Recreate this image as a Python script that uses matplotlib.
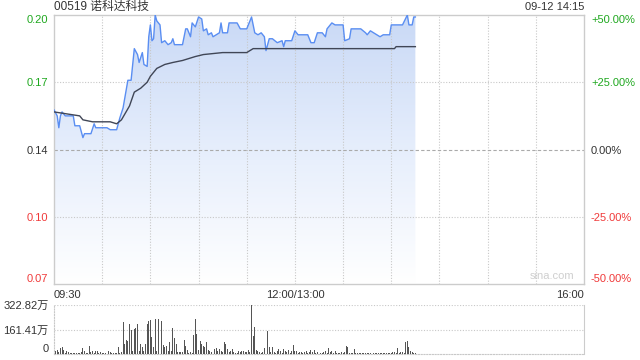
import matplotlib.pyplot as plt
import numpy as np
from matplotlib.colors import LinearSegmentedColormap

plt.rcParams['font.family'] = ['Liberation Sans', 'Noto Sans CJK SC']

title = '00519 诺科达科技'
stamp = '09-12 14:15'
prev_close = 0.136

# minutes after 09:30 (lunch break removed), price keyframes
price_min = [0, 2, 3, 4, 5, 7, 12, 13, 16, 18, 19, 23, 25, 26, 33, 35, 39, 41, 43, 46,
             48, 50, 52, 53, 55, 56, 58, 59, 60, 61, 62, 63, 64, 66, 67, 69, 71, 73, 74, 75,
             80, 82, 83, 85, 86, 88, 90, 92, 93, 95, 96, 98, 99, 103, 104, 105, 108, 109, 114, 116,
             120, 123, 125, 127, 129, 131, 132, 134, 136, 139, 142, 143, 144, 148, 150, 152, 156, 158, 160, 162,
             164, 167, 169, 170, 173, 175, 180, 181, 184, 185, 191, 194, 195, 197, 199, 201, 203, 205, 209, 210,
             217, 220, 221, 223, 224, 225]
price = [0.156, 0.153, 0.147, 0.153, 0.155, 0.153, 0.153, 0.148, 0.148, 0.142, 0.144, 0.144, 0.149, 0.147, 0.147, 0.146, 0.146, 0.152, 0.157, 0.171,
         0.171, 0.187, 0.184, 0.180, 0.185, 0.179, 0.178, 0.193, 0.199, 0.191, 0.192, 0.204, 0.201, 0.199, 0.190, 0.191, 0.189, 0.190, 0.192, 0.189,
         0.189, 0.197, 0.197, 0.193, 0.200, 0.198, 0.203, 0.202, 0.196, 0.197, 0.194, 0.195, 0.193, 0.195, 0.200, 0.195, 0.195, 0.200, 0.200, 0.197,
         0.197, 0.203, 0.195, 0.194, 0.195, 0.193, 0.186, 0.192, 0.192, 0.190, 0.191, 0.188, 0.191, 0.191, 0.196, 0.194, 0.194, 0.194, 0.190, 0.190,
         0.195, 0.195, 0.193, 0.197, 0.200, 0.199, 0.199, 0.191, 0.192, 0.197, 0.197, 0.195, 0.194, 0.196, 0.195, 0.194, 0.193, 0.194, 0.194, 0.199,
         0.199, 0.204, 0.199, 0.199, 0.203, 0.203]

avg_min = [0, 16, 18, 24, 35, 39, 42, 47, 50, 54, 58, 60, 64, 69, 74, 80, 88, 93, 105, 120, 124, 212, 213, 225]
avg = [0.155, 0.153, 0.151, 0.150, 0.150, 0.149, 0.151, 0.158, 0.165, 0.167, 0.170, 0.173, 0.177, 0.179,
       0.180, 0.181, 0.183, 0.184, 0.185, 0.185, 0.187, 0.187, 0.188, 0.188]

# volume per minute, in 万
vol = [26, 22, 26, 10, 38, 43, 25, 8, 17, 10,
       6, 5, 8, 4, 6, 5, 8, 12, 39, 22,
       6, 8, 54, 10, 17, 8, 22, 17, 6, 10,
       8, 6, 5, 8, 17, 10, 6, 8, 9, 6,
       47, 8, 12, 209, 65, 90, 86, 198, 157, 21,
       166, 172, 198, 17, 65, 47, 22, 69, 198, 215,
       226, 112, 47, 232, 22, 232, 172, 220, 60, 47,
       54, 17, 82, 17, 168, 108, 69, 12, 10, 11,
       10, 90, 54, 26, 9, 12, 8, 123, 232, 133,
       26, 86, 65, 52, 43, 78, 26, 22, 12, 26,
       32, 39, 22, 30, 17, 12, 80, 69, 30, 12,
       17, 32, 10, 8, 9, 21, 12, 17, 21, 13,
       12, 26, 10, 323, 118, 176, 26, 21, 13, 8,
       10, 39, 69, 151, 47, 10, 47, 11, 8, 17,
       32, 17, 8, 32, 17, 10, 26, 8, 17, 60,
       17, 17, 8, 13, 13, 8, 11, 17, 8, 13,
       26, 10, 26, 8, 11, 8, 9, 8, 13, 17,
       8, 39, 10, 17, 8, 17, 8, 9, 8, 11,
       8, 10, 54, 47, 8, 9, 8, 32, 8, 6,
       9, 6, 8, 5, 8, 6, 9, 6, 8, 5,
       8, 6, 9, 6, 8, 5, 8, 6, 9, 6,
       8, 13, 10, 8, 39, 8, 11, 10, 6, 80,
       86, 47, 17, 13, 9, 8]
vol_max = 322.82

pct = [0.5, 0.25, 0.0, -0.25, -0.5]
time_ticks = [0, 150, 330]
time_labels = ['09:30', '12:00/13:00', '16:00']

green = '#1fa81f'
red = '#f03a3a'
dark = '#333333'
grid_c = '#c8c8c8'

def pct_color(p):
    if p > 0:
        return green
    if p < 0:
        return red
    return dark

fig = plt.figure(figsize=(6.4, 3.6), dpi=100)
ax = fig.add_axes([54/640, 1-284/360, 530/640, 269/360])
vax = fig.add_axes([54/640, 1-354/360, 530/640, 49/360])

ymin = prev_close * 0.5
ymax = prev_close * 1.5
ax.set_xlim(0, 330)
ax.set_ylim(ymin, ymax)

# gradient fill under the price line
cmap = LinearSegmentedColormap.from_list('g', ['#ffffff', '#e6eefc', '#c9d9f6'])
grad = np.linspace(0, 1, 256).reshape(-1, 1)
poly = ax.fill_between(price_min, price, ymin, color='none', lw=0)
img = ax.imshow(grad, extent=[0, price_min[-1], ymin, ymax], origin='lower',
                aspect='auto', cmap=cmap, zorder=1)
img.set_clip_path(poly.get_paths()[0], transform=ax.transData)

ax.plot(price_min, price, color='#5a8ef2', lw=1.0, zorder=3)
ax.plot(avg_min, avg, color='#404656', lw=1.0, zorder=3)

# grid
for m in range(30, 330, 30):
    ax.axvline(m, color=grid_c, lw=0.8, ls=(0, (1, 1.5)), zorder=2)
for p in pct[1:-1]:
    if p == 0:
        ax.axhline(prev_close, color='#aaaaaa', lw=0.8, ls=(0, (3, 2)), zorder=2)
    else:
        ax.axhline(prev_close*(1+p), color=grid_c, lw=0.8, ls=(0, (1, 1.5)), zorder=2)

for s in ax.spines.values():
    s.set_color('#cccccc')
    s.set_linewidth(1)

ax.set_yticks([prev_close*(1+p) for p in pct])
ax.set_yticklabels(['%.2f' % (prev_close*(1+p)) for p in pct])
ax.tick_params(axis='y', length=0, pad=4, labelsize=8)
for lbl, p in zip(ax.get_yticklabels(), pct):
    lbl.set_color(pct_color(p))
    if p == 0.5:
        lbl.set_va('top')
    elif p == -0.5:
        lbl.set_va('bottom')

ax.set_xticks(time_ticks)
ax.set_xticklabels(time_labels)
ax.tick_params(axis='x', length=0, pad=4, labelsize=8, labelcolor=dark)
xl = ax.get_xticklabels()
xl[0].set_ha('left')
xl[-1].set_ha('right')

rax = ax.twinx()
rax.set_ylim(-50, 50)
rax.set_yticks([p*100 for p in pct])
rax.set_yticklabels([('+' if p > 0 else '') + '%.2f%%' % (p*100) for p in pct])
rax.tick_params(axis='y', length=0, pad=5, labelsize=8)
for lbl, p in zip(rax.get_yticklabels(), pct):
    lbl.set_color(pct_color(p))
    if p == 0.5:
        lbl.set_va('top')
    elif p == -0.5:
        lbl.set_va('bottom')
for s in rax.spines.values():
    s.set_visible(False)

ax.text(0.94, 0.01, 'sina.com', transform=ax.transAxes, ha='center', va='bottom',
        fontsize=8, color='#cfcfcf')

fig.text(54/640, 1-7/360, title, ha='left', va='center', fontsize=8.5, color=dark)
fig.text(584/640, 1-7/360, stamp, ha='right', va='center', fontsize=8, color=dark)

# volume panel
vax.bar(np.arange(len(vol)), vol, width=0.6, color='#555555', zorder=3)
vax.set_xlim(0, 330)
vax.set_ylim(0, vol_max)
vax.set_xticks([])
vax.set_yticks([0, vol_max/2, vol_max])
vax.set_yticklabels(['0', '%.2f万' % (vol_max/2), '%.2f万' % vol_max])
vax.tick_params(axis='y', length=0, pad=4, labelsize=8, labelcolor=dark)
vl = vax.get_yticklabels()
vl[0].set_va('bottom')
for y in [vol_max/2, vol_max]:
    vax.axhline(y, color=grid_c, lw=0.8, ls=(0, (1, 1.5)), zorder=1)
for side in ['top', 'bottom', 'left']:
    vax.spines[side].set_color(grid_c)
    vax.spines[side].set_linestyle((0, (1, 1.5)))
    vax.spines[side].set_linewidth(0.8)
vax.spines['top'].set_visible(False)
vax.spines['right'].set_color('#cccccc')

fig.savefig('out.png', dpi=100)
